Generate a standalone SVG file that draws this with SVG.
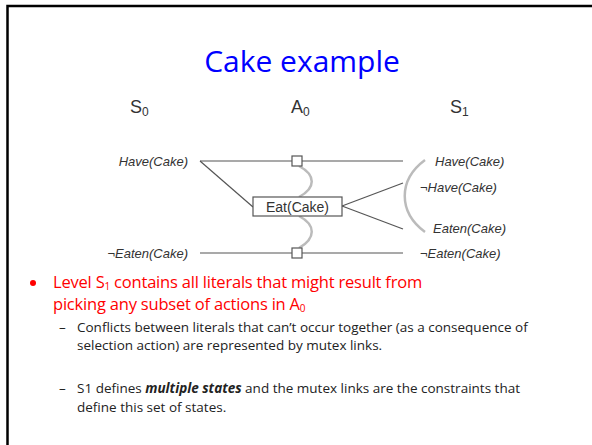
<svg xmlns="http://www.w3.org/2000/svg" width="592" height="445" viewBox="0 0 592 445">
<style>
.lbl{font-family:"Liberation Sans",Arial,sans-serif;font-size:13px;font-style:italic;fill:#333}
.hdr{font-family:"Liberation Sans",Arial,sans-serif;font-size:18px;fill:#333}
.ln{stroke:#555;stroke-width:1.2;fill:none}
.mx{stroke:#bbb;stroke-width:2.5;fill:none}
.body{font-family:"Open Sans","Liberation Sans",sans-serif;fill:#222}
.red{font-size:16.5px;letter-spacing:-0.2px;fill:#ff0000}
.sb{font-size:13.5px}
</style>
<rect width="592" height="445" fill="#fff"/>
<path d="M7.5 445 V6 H592" fill="none" stroke="#000" stroke-width="2.5"/>
<text x="302" y="72" text-anchor="middle" font-family="Open Sans, Liberation Sans, sans-serif" font-size="30" fill="#0000ff">Cake example</text>
<g id="headers">
<text class="hdr" x="130" y="113">S<tspan font-size="12" dy="3">0</tspan></text>
<text class="hdr" x="291" y="113">A<tspan font-size="12" dy="3">0</tspan></text>
<text class="hdr" x="450" y="113">S<tspan font-size="12" dy="3">1</tspan></text>
</g>
<g id="connectors">
<line class="ln" x1="200" y1="161" x2="403" y2="161"/>
<line class="ln" x1="200" y1="253" x2="403" y2="253"/>
<line class="ln" x1="200" y1="161" x2="253" y2="207"/>
<line class="ln" x1="342" y1="206" x2="403" y2="183"/>
<line class="ln" x1="342" y1="206" x2="403" y2="229"/>
<path class="mx" d="M299 166 C316 175 316 188 299 197"/>
<path class="mx" d="M299 216 C316 225 316 238 299 248"/>
<path class="mx" d="M425 160 C398 180 398 212 425 232"/>
</g>
<g id="noop-have"><rect x="292" y="156" width="10" height="10" fill="#fff" stroke="#555" stroke-width="1.2"/></g>
<g id="noop-eaten"><rect x="292" y="248" width="10" height="10" fill="#fff" stroke="#555" stroke-width="1.2"/></g>
<g id="eat-cake">
<rect x="253" y="197" width="89" height="19" fill="#fff" stroke="#555" stroke-width="1.2"/>
<text x="297.5" y="211.5" text-anchor="middle" font-family="Liberation Sans, Arial, sans-serif" font-size="14" fill="#333">Eat(Cake)</text>
</g>
<g id="s0-have"><text class="lbl" x="188" y="165.5" text-anchor="end">Have(Cake)</text></g>
<g id="s0-noteaten"><text class="lbl" x="188" y="257.5" text-anchor="end">¬Eaten(Cake)</text></g>
<g id="s1-have"><text class="lbl" x="435" y="165.5">Have(Cake)</text></g>
<g id="s1-nothave"><text class="lbl" x="420" y="191.5">¬Have(Cake)</text></g>
<g id="s1-eaten"><text class="lbl" x="433" y="232.5">Eaten(Cake)</text></g>
<g id="s1-noteaten"><text class="lbl" x="420" y="257.5">¬Eaten(Cake)</text></g>
<circle cx="33" cy="283" r="3" fill="#ff0000"/>
<text class="body red" x="53" y="288">Level S<tspan font-size="10" dy="2">1</tspan><tspan dy="-2"> contains all literals that might result from</tspan></text>
<text class="body red" x="53" y="310">picking any subset of actions in A<tspan font-size="10" dy="2">0</tspan></text>
<text class="body sb" x="59" y="332">–</text>
<text class="body sb" x="77" y="332">Conflicts between literals that can’t occur together (as a consequence of</text>
<text class="body sb" x="77" y="350">selection action) are represented by mutex links.</text>
<text class="body sb" x="59" y="393">–</text>
<text class="body sb" x="77" y="393">S1 defines <tspan font-weight="bold" font-style="italic">multiple states</tspan> and the mutex links are the constraints that</text>
<text class="body sb" x="77" y="412">define this set of states.</text>
</svg>
